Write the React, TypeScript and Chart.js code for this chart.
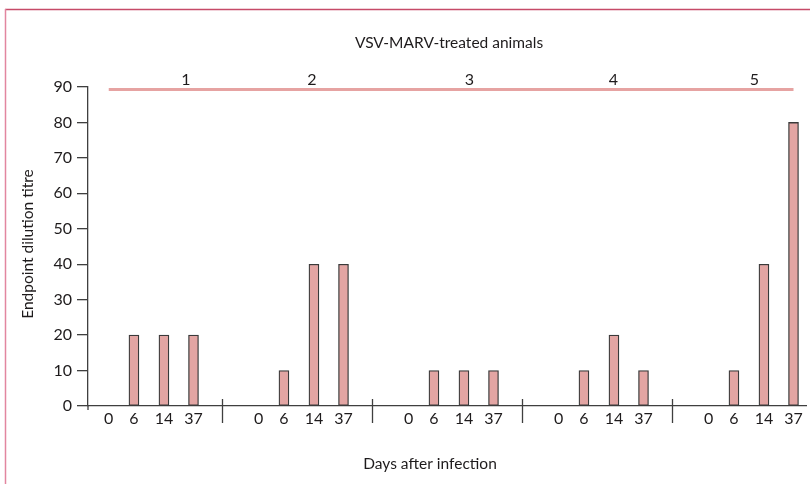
import React, { useEffect, useRef } from "react";
import { Chart, registerables } from "chart.js";

Chart.register(...registerables);

// ---- data ----
const animals = ["1", "2", "3", "4", "5"];
const dayLabels = ["0", "6", "14", "37"];
const titres = [
  [0, 20, 20, 20],
  [0, 10, 40, 40],
  [0, 10, 10, 10],
  [0, 10, 20, 10],
  [0, 10, 40, 80],
];
const panelTitle = "VSV-MARV-treated animals";
const xTitle = "Days after infection";
const yTitle = "Endpoint dilution titre";

// ---- layout (positions within each animal's group, group width = 1) ----
const dayOffsets = [0.245, 0.413, 0.613, 0.81];
const groupLabelOffsets = [0.76, 0.6, 0.65, 0.61, 0.55];

const FONT = 'Lato, "Open Sans", sans-serif';
const TEXT = "#1e1b1c";
const AXIS = "#3f3f3f";

const points: { x: number; y: number }[] = [];
animals.forEach((_, g) => {
  dayLabels.forEach((_, k) => {
    points.push({ x: g + dayOffsets[k], y: titres[g][k] });
  });
});

const decorations = {
  id: "decorations",
  afterDraw(chart: any) {
    const { ctx, scales } = chart;
    const xs = scales.x;
    const ys = scales.y;
    ctx.save();
    // frame
    ctx.lineWidth = 1.5;
    ctx.strokeStyle = "#c64a68";
    ctx.beginPath();
    ctx.moveTo(5, 9.5);
    ctx.lineTo(810, 9.5);
    ctx.stroke();
    ctx.strokeStyle = "#e286a0";
    ctx.beginPath();
    ctx.moveTo(5.5, 9);
    ctx.lineTo(5.5, 484);
    ctx.stroke();

    // panel title
    ctx.fillStyle = TEXT;
    ctx.font = `15.5px ${FONT}`;
    ctx.textAlign = "center";
    ctx.textBaseline = "middle";
    ctx.fillText(panelTitle, 449, 43);

    // bracket line over animals
    const x0 = xs.getPixelForValue(0 + dayOffsets[0]);
    const x1 = xs.getPixelForValue(animals.length - 1 + dayOffsets[3]);
    ctx.strokeStyle = "#e6a3a2";
    ctx.lineWidth = 3;
    ctx.beginPath();
    ctx.moveTo(x0, ys.getPixelForValue(90) + 2.5);
    ctx.lineTo(x1, ys.getPixelForValue(90) + 2.5);
    ctx.stroke();

    // animal numbers
    ctx.font = `16px ${FONT}`;
    animals.forEach((a, g) => {
      ctx.fillText(a, xs.getPixelForValue(g + groupLabelOffsets[g]), 80);
    });

    // group separators on x axis
    const yb = ys.getPixelForValue(0);
    ctx.strokeStyle = AXIS;
    ctx.lineWidth = 1.3;
    for (let g = 1; g < animals.length; g++) {
      const px = Math.round(xs.getPixelForValue(g)) + 0.5;
      ctx.beginPath();
      ctx.moveTo(px, yb - 7);
      ctx.lineTo(px, yb + 17);
      ctx.stroke();
    }
    // y axis extension below zero
    ctx.beginPath();
    ctx.moveTo(chart.chartArea.left, yb);
    ctx.lineTo(chart.chartArea.left, yb + 4);
    ctx.stroke();

    // axis titles
    ctx.fillStyle = TEXT;
    ctx.font = `15.5px ${FONT}`;
    ctx.fillText(xTitle, 430, 464);
    ctx.translate(28, 244);
    ctx.rotate(-Math.PI / 2);
    ctx.fillText(yTitle, 0, 0);
    ctx.restore();
  },
};

export default function App() {
  const ref = useRef<HTMLCanvasElement>(null);
  useEffect(() => {
    if (!ref.current) return;
    const chart = new Chart(ref.current, {
      type: "bar",
      data: {
        datasets: [
          {
            data: points as any,
            backgroundColor: "#e3a5a3",
            borderColor: "#3a3a3a",
            borderWidth: 1.3,
            borderSkipped: false,
            barThickness: 10,
          },
        ],
      },
      options: {
        responsive: false,
        animation: false,
        events: [],
        layout: { padding: { top: 87, right: 4, left: 0, bottom: 0 } },
        plugins: { legend: { display: false }, tooltip: { enabled: false } },
        scales: {
          x: {
            type: "linear",
            offset: false,
            min: 0.1067,
            max: 4.8933,
            grid: { display: true, offset: false, drawOnChartArea: false, drawTicks: false },
            border: { display: true, color: AXIS, width: 1.3 },
            ticks: {
              autoSkip: false,
              maxRotation: 0,
              color: TEXT,
              font: { family: FONT, size: 16 },
              padding: 3,
              callback: (_v: any, i: number) => dayLabels[i % dayLabels.length],
            },
            afterBuildTicks: (s: any) => {
              s.ticks = points.map((p) => ({ value: p.x }));
            },
            afterFit: (s: any) => {
              s.height = 78;
            },
          },
          y: {
            min: 0,
            max: 90,
            ticks: {
              stepSize: 10,
              color: TEXT,
              font: { family: FONT, size: 16 },
              padding: 5,
            },
            grid: {
              display: true,
              drawOnChartArea: false,
              drawTicks: true,
              tickLength: 11,
              color: AXIS,
              lineWidth: 1.3,
            },
            border: { display: true, color: AXIS, width: 1.3 },
            afterFit: (s: any) => {
              s.width = 88;
            },
          },
        },
      },
      plugins: [decorations],
    });
    return () => chart.destroy();
  }, []);
  return (
    <div style={{ position: "absolute", left: 0, top: 0, width: 810, height: 484 }}>
      <canvas ref={ref} width={810} height={484} style={{ display: "block" }} />
    </div>
  );
}
